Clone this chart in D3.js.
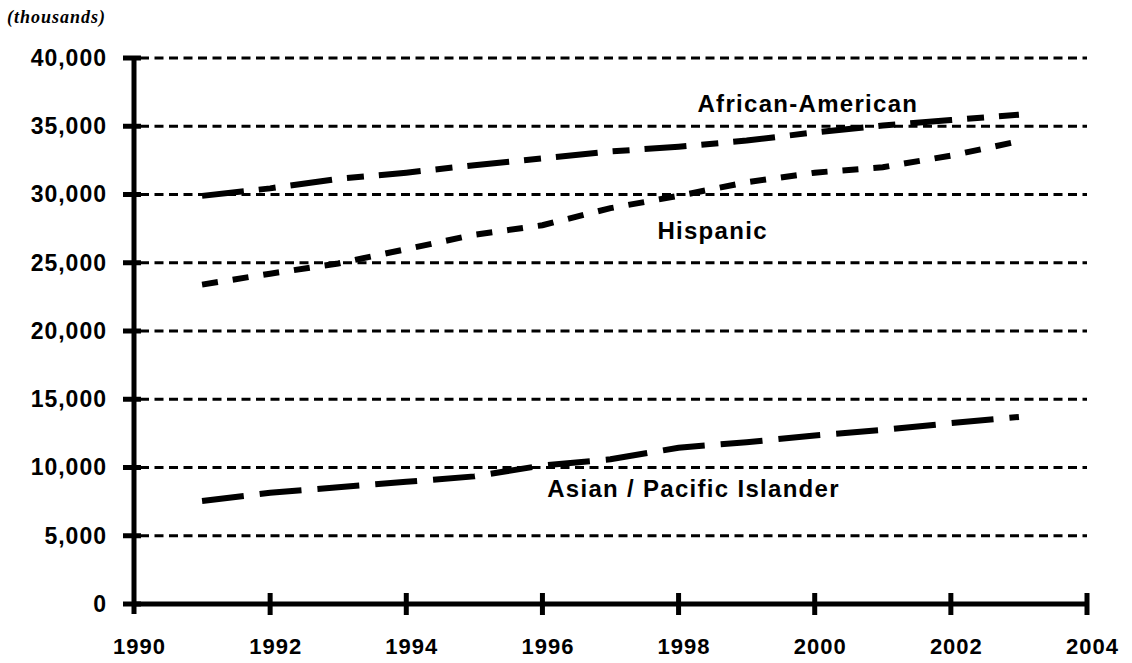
<!DOCTYPE html>
<html>
<head>
<meta charset="utf-8">
<script src="https://cdn.jsdelivr.net/npm/d3@7"></script>
<style>
  html, body { margin: 0; padding: 0; background: #fff; }
  svg { display: block; }
</style>
</head>
<body>
<svg id="chart" width="1132" height="663"></svg>
<script>
// ---- data ----
const years = [1991, 1992, 1993, 1994, 1995, 1996, 1997, 1998, 1999, 2000, 2001, 2002, 2003];
const africanAmerican = [29900, 30450, 31150, 31600, 32150, 32650, 33150, 33500, 33950, 34550, 35050, 35450, 35850];
const hispanic = [23400, 24200, 24950, 26000, 27050, 27750, 29000, 29900, 30900, 31600, 32000, 32850, 33900];
const asianPacific = [7550, 8150, 8550, 8950, 9350, 10150, 10600, 11450, 11850, 12350, 12750, 13250, 13700];
const xTicks = [1990, 1992, 1994, 1996, 1998, 2000, 2002, 2004];
const yTicks = [0, 5000, 10000, 15000, 20000, 25000, 30000, 35000, 40000];
const seriesNames = ["African-American", "Hispanic", "Asian / Pacific Islander"];
const unitLabel = "(thousands)";

// ---- layout ----
const svg = d3.select("#chart");
const x = d3.scaleLinear().domain([1990, 2004]).range([134, 1087]);
const y = d3.scaleLinear().domain([0, 40000]).range([604, 58]);
const fmt = d3.format(",");
const SANS = "Liberation Sans, Arial, sans-serif";

// gridlines
svg.append("g").selectAll("line").data(yTicks.filter(d => d > 0)).join("line")
  .attr("x1", x(1990) + 6).attr("x2", x(2004))
  .attr("y1", d => y(d)).attr("y2", d => y(d))
  .attr("stroke", "#000").attr("stroke-width", 3)
  .attr("stroke-dasharray", "9,5.5");

// y axis
const yAxis = svg.append("g").attr("transform", `translate(${x(1990)},0)`)
  .call(d3.axisLeft(y).tickValues(yTicks).tickFormat(fmt).tickSize(0).tickPadding(27));
yAxis.select(".domain").remove();
yAxis.selectAll("text")
  .attr("font-family", SANS).attr("font-weight", "bold")
  .attr("font-size", 23).attr("letter-spacing", "1px").attr("fill", "#000");
svg.append("line")
  .attr("x1", x(1990)).attr("x2", x(1990))
  .attr("y1", y(40000)).attr("y2", y(0) + 10)
  .attr("stroke", "#000").attr("stroke-width", 5);
svg.append("g").selectAll("line").data(yTicks).join("line")
  .attr("x1", x(1990) - 11).attr("x2", x(1990) + 7)
  .attr("y1", d => y(d)).attr("y2", d => y(d))
  .attr("stroke", "#000").attr("stroke-width", 5);

// x axis
const xAxis = svg.append("g").attr("transform", `translate(0,${y(0)})`)
  .call(d3.axisBottom(x).tickValues(xTicks).tickFormat(d3.format("d")).tickSize(0).tickPadding(34));
xAxis.select(".domain").remove();
xAxis.selectAll("text")
  .attr("font-family", SANS).attr("font-weight", "bold")
  .attr("font-size", 22).attr("letter-spacing", "1px").attr("dx", 5).attr("fill", "#000");
svg.append("line")
  .attr("x1", x(1990) - 2).attr("x2", x(2004))
  .attr("y1", y(0)).attr("y2", y(0))
  .attr("stroke", "#000").attr("stroke-width", 5);
svg.append("g").selectAll("line").data(xTicks.filter(d => d > 1990)).join("line")
  .attr("x1", d => x(d)).attr("x2", d => x(d))
  .attr("y1", y(0) - 11).attr("y2", y(0) + 11)
  .attr("stroke", "#000").attr("stroke-width", 5);

// unit label
svg.append("text").attr("x", 7).attr("y", 23).text(unitLabel)
  .attr("font-family", "Liberation Serif, Times New Roman, serif")
  .attr("font-style", "italic").attr("font-weight", "bold")
  .attr("font-size", 18).attr("letter-spacing", "1px");

// series lines
const series = [
  { name: seriesNames[0], values: africanAmerican, dash: "42,15,17,15" },
  { name: seriesNames[1], values: hispanic, dash: "16,15" },
  { name: seriesNames[2], values: asianPacific, dash: "42,16" }
];
const line = d3.line().x((d, i) => x(years[i])).y(d => y(d));
svg.append("g").selectAll("path").data(series).join("path")
  .attr("d", d => line(d.values))
  .attr("fill", "none").attr("stroke", "#000").attr("stroke-width", 6)
  .attr("stroke-dasharray", d => d.dash);

// series labels (anchor positions in data units)
const labelYears = [1999.9, 1998.5, 1998.22];
const labelValues = [36050, 26750, 7850];
svg.append("g").selectAll("text").data(series).join("text")
  .attr("x", (d, i) => x(labelYears[i]))
  .attr("y", (d, i) => y(labelValues[i]))
  .attr("text-anchor", "middle")
  .attr("font-family", SANS).attr("font-weight", "bold")
  .attr("font-size", 24).attr("letter-spacing", "1.3px")
  .text(d => d.name);
</script>
</body>
</html>
